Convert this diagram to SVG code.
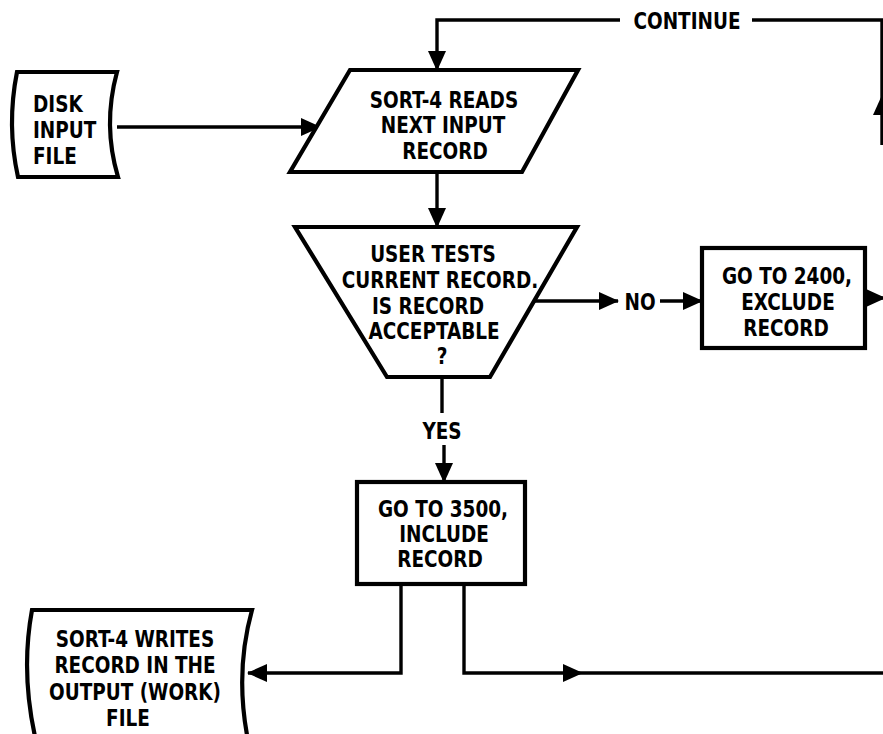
<svg xmlns="http://www.w3.org/2000/svg" width="883" height="734" viewBox="0 0 883 734">
  <defs>
    <marker id="arr" viewBox="0 0 20 18" refX="19" refY="9" markerWidth="20" markerHeight="18" markerUnits="userSpaceOnUse" orient="auto">
      <path d="M0,0 L20,9 L0,18 Z" fill="#000"/>
    </marker>
    <style>
      .shape { fill: #fff; stroke: #000; stroke-width: 4.2; stroke-linejoin: miter; }
      .conn { fill: none; stroke: #000; stroke-width: 3.4; }
      text { font-family: "DejaVu Sans Condensed", "DejaVu Sans", "Liberation Sans", sans-serif; font-stretch: condensed; font-weight: bold; font-size: 20.5px; fill: #000; }
      .c { text-anchor: middle; }
    </style>
  </defs>
  <rect width="883" height="734" fill="#fff"/>

  <g id="connectors">
    <path class="conn" d="M882,145 L882,96" marker-end="url(#arr)"/>
    <path class="conn" d="M882,96 L882,20 L752,20"/>
    <path class="conn" d="M620,20 L437,20 L437,70" marker-end="url(#arr)"/>
    <path class="conn" d="M117,127 L320,127" marker-end="url(#arr)"/>
    <path class="conn" d="M437,172 L437,227" marker-end="url(#arr)"/>
    <path class="conn" d="M533,301 L618,301" marker-end="url(#arr)"/>
    <path class="conn" d="M660,301 L702,301" marker-end="url(#arr)"/>
    <path class="conn" d="M865,298 L885,298" marker-end="url(#arr)"/>
    <path class="conn" d="M442,377 L442,413"/>
    <path class="conn" d="M444,445 L444,482" marker-end="url(#arr)"/>
    <path class="conn" d="M401,584 L401,673 L248,673" marker-end="url(#arr)"/>
    <path class="conn" d="M464,584 L464,673 L582,673" marker-end="url(#arr)"/>
    <path class="conn" d="M582,673 L883,673"/>
  </g>
  <text transform="translate(687,28.5) scale(1,1.15)" class="c">CONTINUE</text>
  <text transform="translate(640,309.5) scale(1,1.15)" class="c">NO</text>
  <text transform="translate(442,438.5) scale(1,1.15)" class="c">YES</text>

  <g id="disk-input">
    <path class="shape" d="M17,72 L117,72 Q102.5,125 118,177 L18,177 Q6.5,125 17,72 Z"/>
    <text transform="translate(33,111.5) scale(1,1.15)">DISK</text>
    <text transform="translate(33,137.5) scale(1,1.15)">INPUT</text>
    <text transform="translate(33,163.5) scale(1,1.15)">FILE</text>
  </g>

  <g id="read-record">
    <path class="shape" d="M350,70 L578,70 L522,172 L290,172 Z"/>
    <text transform="translate(444,107.5) scale(1,1.15)" class="c">SORT-4 READS</text>
    <text transform="translate(443,133) scale(1,1.15)" class="c">NEXT INPUT</text>
    <text transform="translate(445,158.5) scale(1,1.15)" class="c">RECORD</text>
  </g>

  <g id="test-record">
    <path class="shape" d="M295,227 L577,227 L490,377 L387,377 Z"/>
    <text transform="translate(433,261.5) scale(1,1.15)" class="c">USER TESTS</text>
    <text transform="translate(440,288) scale(1,1.15)" class="c">CURRENT RECORD.</text>
    <text transform="translate(428,313.5) scale(1,1.15)" class="c">IS RECORD</text>
    <text transform="translate(434,338.5) scale(1,1.15)" class="c">ACCEPTABLE</text>
    <text transform="translate(442,363.5) scale(1,1.15)" class="c">?</text>
  </g>

  <g id="exclude">
    <rect class="shape" x="702" y="248" width="163" height="100"/>
    <text transform="translate(787,283.5) scale(1,1.15)" class="c">GO TO 2400,</text>
    <text transform="translate(788,309.5) scale(1,1.15)" class="c">EXCLUDE</text>
    <text transform="translate(786,335.5) scale(1,1.15)" class="c">RECORD</text>
  </g>

  <g id="include">
    <rect class="shape" x="357" y="482" width="168" height="102"/>
    <text transform="translate(443,517) scale(1,1.15)" class="c">GO TO 3500,</text>
    <text transform="translate(444,542) scale(1,1.15)" class="c">INCLUDE</text>
    <text transform="translate(440,567) scale(1,1.15)" class="c">RECORD</text>
  </g>

  <g id="output-file">
    <path class="shape" d="M32,610 L252,610 Q234,675 249,745 L37,745 Q20,675 32,610 Z"/>
    <text transform="translate(135,646.5) scale(1,1.15)" class="c">SORT-4 WRITES</text>
    <text transform="translate(135,672.5) scale(1,1.15)" class="c">RECORD IN THE</text>
    <text transform="translate(135,699.5) scale(1,1.15)" class="c">OUTPUT (WORK)</text>
    <text transform="translate(128,726) scale(1,1.15)" class="c">FILE</text>
  </g>
</svg>
